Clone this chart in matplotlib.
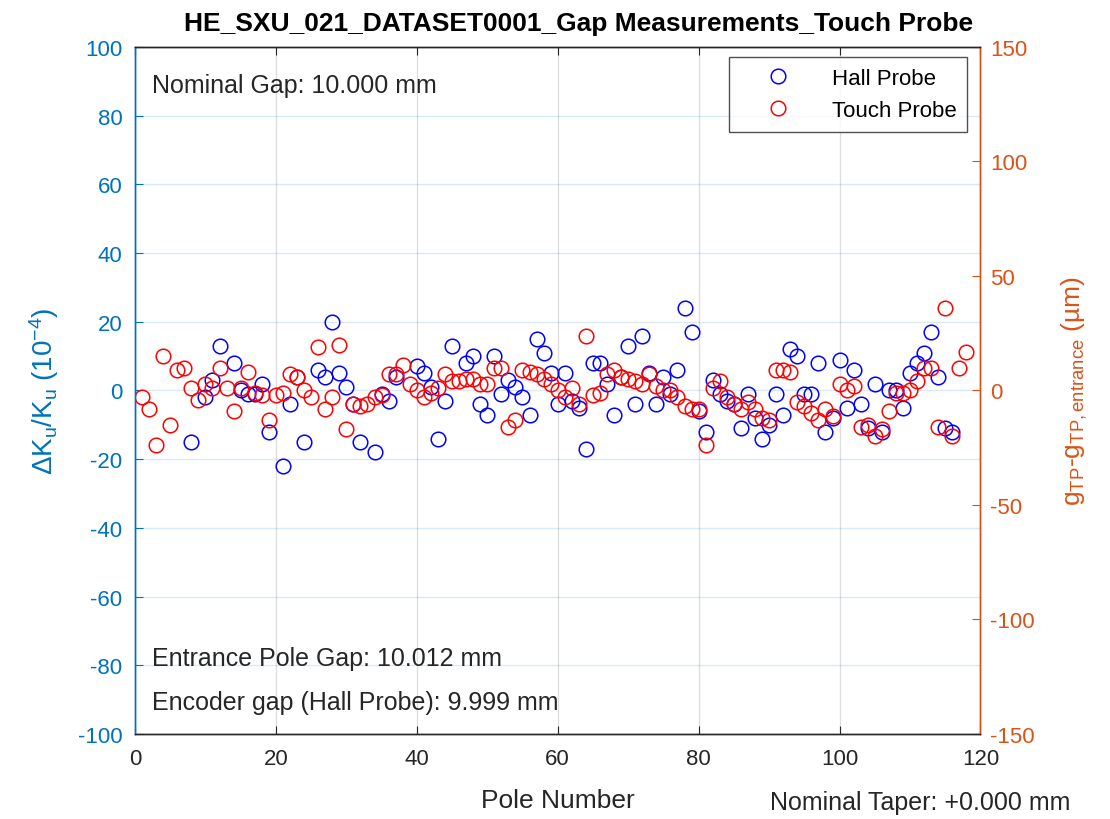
import matplotlib
matplotlib.use("Agg")
import matplotlib.pyplot as plt
from matplotlib.lines import Line2D

plt.rcParams["font.family"] = ["Liberation Sans", "DejaVu Sans"]
plt.rcParams["axes.unicode_minus"] = False
plt.rcParams["mathtext.fontset"] = "custom"
plt.rcParams["mathtext.rm"] = "Liberation Sans"
plt.rcParams["mathtext.it"] = "Liberation Sans:italic"

# Hall probe: relative K deviation per pole (1e-4)
hall_pole = [8, 10, 11, 12, 14, 15, 16, 17, 18, 19, 21, 22, 23, 24, 26, 27, 28, 29, 30,
             31, 32, 34, 35, 36, 37, 40, 41, 42, 43, 44, 45, 47, 48, 49, 50, 51, 52, 53,
             54, 55, 56, 57, 58, 59, 60, 61, 62, 63, 64, 65, 66, 67, 68, 69, 70, 71, 72,
             73, 74, 75, 76, 77, 78, 79, 80, 81, 82, 83, 84, 85, 86, 87, 88, 89, 90, 91,
             92, 93, 94, 95, 96, 97, 98, 99, 100, 101, 102, 103, 104, 105, 106, 107, 108,
             109, 110, 111, 112, 113, 114, 115, 116]
hall_dk = [-15, -2, 3, 13, 8, 0, -1, -1, 2, -12, -22, -4, 4, -15, 6, 4, 20, 5, 1,
           -4, -15, -18, -1, -3, 4, 7, 5, 1, -14, -3, 13, 8, 10, -4, -7, 10, -1, 3,
           1, -2, -7, 15, 11, 5, -4, 5, -3, -5, -17, 8, 8, 2, -7, 4, 13, -4, 16,
           5, -4, 4, -1, 6, 24, 17, -6, -12, 3, -1, -3, -4, -11, -1, -8, -14, -10, -1,
           -7, 12, 10, -1, -1, 8, -12, -8, 9, -5, 6, -4, -11, 2, -12, 0, 0,
           -5, 5, 8, 11, 17, 4, -11, -12]

# Touch probe: gap relative to entrance pole (um)
tp_pole = list(range(1, 119))
tp_dg = [-3, -8, -24, 15, -15, 9, 10, 1, -4, 3, 1, 10, 1, -9, 1, 8, -1, -2, -13, -2,
         -1, 7, 6, 0, -3, 19, -8, -3, 20, -17, -6, -7, -6, -3, -2, 7, 7, 11, 3, 0,
         -3, -1, 1, 7, 4, 4, 5, 5, 3, 3, 10, 10, -16, -13, 9, 8, 7, 5, 3, 0,
         -3, 1, -6, 24, -2, -1, 7, 9, 6, 5, 4, 3, 7, 2, 0, 0, -3, -7, -8, -8,
         -24, 1, 4, -3, -6, -8, -5, -8, -12, -13, 9, 9, 8, -5, -7, -10, -13, -8, -11, 3,
         0, 2, -16, -15, -20, -17, -9, -1, -1, 0, 4, 10, 10, -16, 36, -20, 10, 17]

LEFT_C = "#0072BD"
RIGHT_C = "#D95319"
TXT = "#262626"

fig = plt.figure(figsize=(11.1, 8.2), dpi=100, facecolor="white")
ax = fig.add_axes([0.1216, 0.1037, 0.7617, 0.8378])
ax2 = ax.twinx()

mk = dict(linestyle="none", marker="o", markersize=10.5, markerfacecolor="none",
          markeredgewidth=1.1)
ax.plot(hall_pole, hall_dk, markeredgecolor="blue", **mk)
ax2.plot(tp_pole, tp_dg, markeredgecolor="red", **mk)

ax.set_xlim(0, 120)
ax.set_ylim(-100, 100)
ax2.set_ylim(-150, 150)
ax.set_xticks(range(0, 121, 20))
ax.set_yticks(range(-100, 101, 20))
ax2.set_yticks(range(-150, 151, 50))

# grid: vertical grey, horizontal tinted with the left axis colour
ax.xaxis.grid(True, color="#262626", alpha=0.15, lw=1)
ax.yaxis.grid(True, color=LEFT_C, alpha=0.15, lw=1)
ax.set_axisbelow(True)

for a in (ax, ax2):
    for sp in a.spines.values():
        sp.set_linewidth(1.0)
    a.spines["top"].set_color(TXT)
    a.spines["bottom"].set_color(TXT)
    a.spines["left"].set_color(LEFT_C)
    a.spines["right"].set_color(RIGHT_C)

ax.tick_params(axis="x", direction="in", top=True, length=6, colors=TXT,
               labelsize=16, pad=10)
ax.tick_params(axis="y", direction="in", length=6, colors=LEFT_C, labelsize=16, pad=9)
ax2.tick_params(axis="y", direction="in", length=6, colors=RIGHT_C, labelsize=16, pad=7)

ax.set_xlabel("Pole Number", fontsize=19, color=TXT, labelpad=14)
ax.set_ylabel(r"ΔK$_\mathrm{u}$/K$_\mathrm{u}$ (10$^{-4}$)", fontsize=20,
              color=LEFT_C, labelpad=12)
ax2.set_ylabel(r"g$_\mathrm{TP}$-g$_\mathrm{TP,entrance}$ (µm)", fontsize=19,
               color=RIGHT_C, labelpad=18)
ax.set_title("HE_SXU_021_DATASET0001_Gap Measurements_Touch Probe", fontsize=19,
             fontweight="bold", color="black", pad=12, x=0.525)

ax.text(0.02, 0.944, "Nominal Gap: 10.000 mm", transform=ax.transAxes,
        fontsize=18, color=TXT, va="center")
ax.text(0.02, 0.111, "Entrance Pole Gap: 10.012 mm", transform=ax.transAxes,
        fontsize=18, color=TXT, va="center")
ax.text(0.02, 0.046, "Encoder gap (Hall Probe): 9.999 mm", transform=ax.transAxes,
        fontsize=18, color=TXT, va="center")
fig.text(0.964, 0.021, "Nominal Taper: +0.000 mm", fontsize=18, color=TXT,
         ha="right", va="center")

handles = [Line2D([], [], markeredgecolor="blue", **mk),
           Line2D([], [], markeredgecolor="red", **mk)]
leg = ax2.legend(handles, ["Hall Probe", "Touch Probe"], loc="upper right",
                 bbox_to_anchor=(0.9846, 0.9854), borderaxespad=0, fontsize=16,
                 frameon=True, fancybox=False, edgecolor=TXT, handletextpad=0.7,
                 borderpad=0.5, labelspacing=0.5, handlelength=3.4)
leg.get_frame().set_linewidth(1.0)

fig.savefig("out.png", dpi=100)
